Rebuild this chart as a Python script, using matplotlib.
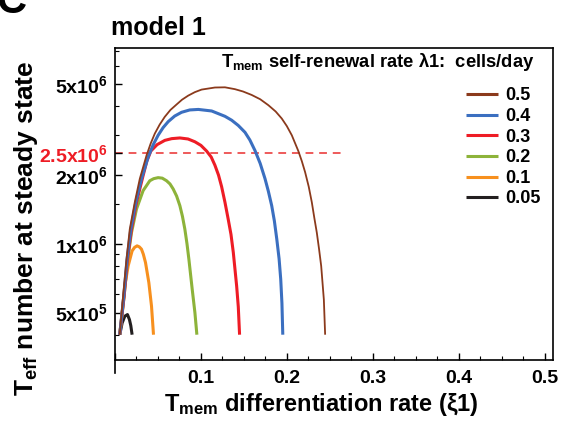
import matplotlib
matplotlib.use("Agg")
import matplotlib.pyplot as plt
from matplotlib.ticker import FixedLocator, NullFormatter

plt.rcParams['font.family'] = ['Liberation Sans', 'DejaVu Sans']
plt.rcParams['font.weight'] = 'bold'
plt.rcParams['mathtext.fontset'] = 'custom'
plt.rcParams['mathtext.rm'] = 'Liberation Sans:bold'
plt.rcParams['mathtext.bf'] = 'Liberation Sans:bold'
plt.rcParams['mathtext.it'] = 'Liberation Sans:bold'

# values: xi1 (differentiation rate) vs Teff at steady state
xi_05 = [0.0055, 0.0094, 0.0134, 0.0172, 0.023, 0.0289, 0.0367, 0.0415, 0.0463, 0.052,
         0.0579, 0.0645, 0.0717, 0.078, 0.0852, 0.093, 0.1008, 0.1163, 0.128, 0.1396,
         0.149, 0.1591, 0.169, 0.1785, 0.187, 0.1941, 0.2, 0.2058, 0.2134, 0.2175,
         0.2213, 0.2255, 0.2291, 0.232, 0.2349, 0.2375, 0.24, 0.2431, 0.2446]
t_05 = [4.0e5, 5.9e5, 8.56e5, 1.16e6, 1.52e6, 1.93e6, 2.44e6, 2.75e6, 3.04e6, 3.33e6,
        3.6e6, 3.86e6, 4.08e6, 4.28e6, 4.46e6, 4.62e6, 4.74e6, 4.84e6, 4.85e6, 4.76e6,
        4.65e6, 4.49e6, 4.3e6, 4.05e6, 3.8e6, 3.54e6, 3.28e6, 2.99e6, 2.55e6, 2.3e6,
        2.06e6, 1.78e6, 1.52e6, 1.3e6, 1.12e6, 9.5e5, 8.0e5, 5.7e5, 4.0e5]

xi_04 = [0.0055, 0.0102, 0.014, 0.0184, 0.0242, 0.0309, 0.0386, 0.0445, 0.0502, 0.056,
         0.0619, 0.0695, 0.0775, 0.087, 0.097, 0.1125, 0.128, 0.1358, 0.1435, 0.1513,
         0.157, 0.163, 0.169, 0.1746, 0.1785, 0.1824, 0.1855, 0.1883, 0.191, 0.1929,
         0.1943, 0.1953]
t_04 = [4.0e5, 5.9e5, 8.56e5, 1.16e6, 1.52e6, 1.93e6, 2.4e6, 2.72e6, 2.99e6, 3.23e6,
        3.43e6, 3.63e6, 3.77e6, 3.86e6, 3.88e6, 3.82e6, 3.62e6, 3.48e6, 3.3e6, 3.08e6,
        2.85e6, 2.56e6, 2.25e6, 1.93e6, 1.7e6, 1.47e6, 1.26e6, 1.05e6, 8.6e5, 7.0e5,
        5.5e5, 4.0e5]

xi_03 = [0.0055, 0.0106, 0.0145, 0.0192, 0.025, 0.0327, 0.037, 0.0417, 0.049, 0.058,
         0.066, 0.0755, 0.085, 0.093, 0.1, 0.1066, 0.112, 0.1163, 0.1205, 0.1241,
         0.128, 0.1318, 0.135, 0.1377, 0.1416, 0.1435, 0.145]
t_03 = [4.0e5, 5.9e5, 8.56e5, 1.16e6, 1.52e6, 1.99e6, 2.3e6, 2.55e6, 2.72e6, 2.84e6,
        2.89e6, 2.91e6, 2.88e6, 2.8e6, 2.7e6, 2.55e6, 2.4e6, 2.21e6, 2.0e6, 1.78e6,
        1.52e6, 1.28e6, 1.1e6, 9.17e5, 6.53e5, 5.3e5, 4.0e5]

xi_02 = [0.0055, 0.0106, 0.0145, 0.0192, 0.025, 0.0327, 0.0405, 0.045, 0.0502, 0.055,
         0.06, 0.064, 0.0677, 0.0717, 0.0755, 0.0785, 0.0813, 0.0838, 0.086, 0.0899,
         0.093, 0.0953]
t_02 = [4.0e5, 5.9e5, 8.42e5, 1.12e6, 1.42e6, 1.71e6, 1.89e6, 1.93e6, 1.95e6, 1.94e6,
        1.89e6, 1.83e6, 1.74e6, 1.62e6, 1.47e6, 1.32e6, 1.16e6, 1.0e6, 8.56e5, 6.31e5,
        5.0e5, 4.0e5]

xi_01 = [0.0055, 0.0083, 0.0114, 0.0153, 0.0199, 0.0228, 0.0257, 0.0283, 0.0308, 0.033,
         0.0355, 0.0394, 0.0425, 0.0448]
t_01 = [4.0e5, 5.0e5, 6.53e5, 8.0e5, 9.31e5, 9.65e5, 9.8e5, 9.7e5, 9.48e5, 9.0e5,
        8.28e5, 6.76e5, 5.33e5, 4.0e5]

xi_005 = [0.0055, 0.0083, 0.0114, 0.0145, 0.0168, 0.0184, 0.0199]
t_005 = [4.0e5, 4.5e5, 4.82e5, 4.9e5, 4.66e5, 4.38e5, 4.0e5]

series = [
    ("0.5", xi_05, t_05, "#8b3a1c", 1.3),
    ("0.4", xi_04, t_04, "#3b6fc0", 2.2),
    ("0.3", xi_03, t_03, "#ee1c25", 2.2),
    ("0.2", xi_02, t_02, "#8db33a", 2.2),
    ("0.1", xi_01, t_01, "#f7901e", 2.2),
    ("0.05", xi_005, t_005, "#231f20", 2.2),
]

threshold = 2.5e6
y_major = [5e5, 1e6, 2e6, 2.5e6, 5e6]
y_labels = [r"$\mathbf{5x10^5}$", r"$\mathbf{1x10^6}$", r"$\mathbf{2x10^6}$",
            r"$\mathbf{2.5x10^6}$", r"$\mathbf{5x10^6}$"]
y_minor = [4e5, 6e5, 7e5, 8e5, 9e5, 1.5e6, 3e6, 4e6, 6e6, 7e6]
x_major = [0, 0.1, 0.2, 0.3, 0.4, 0.5]
x_labels = ["", "0.1", "0.2", "0.3", "0.4", "0.5"]


def main():
    fig = plt.figure(figsize=(5.61, 4.26), dpi=100)
    ax = fig.add_axes([0.205, 0.155, 0.781, 0.732])

    # brown sits on top of the bundle at the left edge
    for i, (label, xs, ys, color, lw) in enumerate(series):
        ax.plot(xs, ys, color=color, lw=lw, label=label, solid_capstyle="butt",
                solid_joinstyle="round", zorder=10 - i)

    ax.plot([0, 0.263], [threshold, threshold], color="#ee5a5a", lw=1.4,
            dashes=(4, 3), zorder=1)

    ax.set_yscale("log")
    ax.set_xlim(0, 0.51)
    ax.set_ylim(3.1e5, 7.2e6)

    ax.yaxis.set_major_locator(FixedLocator(y_major))
    ax.set_yticklabels(y_labels, fontsize=14)
    ax.yaxis.set_minor_locator(FixedLocator(y_minor))
    ax.yaxis.set_minor_formatter(NullFormatter())
    ax.get_yticklabels()[3].set_color("#ee1c25")

    ax.set_xticks(x_major)
    ax.set_xticklabels(x_labels, fontsize=14)
    ax.xaxis.set_minor_locator(FixedLocator([i * 0.025 for i in range(21)]))

    ax.tick_params(which="both", direction="in", top=False, right=False)
    ax.tick_params(which="major", length=5, width=1)
    ax.tick_params(which="minor", length=3, width=0.8)
    ax.tick_params(axis="x", pad=7)
    ax.tick_params(axis="y", pad=5)
    for s in ax.spines.values():
        s.set_linewidth(1.2)
    ax.spines['left'].set_bounds(2.72e5, 7.2e6)

    ax.set_xlabel(r"T$_{\mathbf{mem}}$ differentiation rate ($\xi$1)",
                  fontsize=17, fontweight="bold")
    ax.xaxis.set_label_coords(0.471, -0.098)
    ax.set_ylabel(r"T$_{\mathbf{eff}}$ number at steady state",
                  fontsize=19, fontweight="bold")
    ax.yaxis.set_label_coords(-0.172, 0.423)

    fig.text(0.198, 0.935, "model 1", fontsize=18, fontweight="bold",
             ha="left", va="center")
    fig.text(-0.006, 0.97, "C", fontsize=30, fontweight="bold",
             ha="left", va="baseline")

    ax.text(0.958, 0.955, r"T$_{\mathbf{mem}}$ self-renewal rate λ1:  cells/day",
            transform=ax.transAxes, fontsize=13.2, fontweight="bold",
            ha="right", va="center")

    leg = ax.legend(loc="upper right", bbox_to_anchor=(0.972, 0.874),
                    frameon=False, fontsize=13, handlelength=1.8,
                    handletextpad=0.4, labelspacing=0.2, borderaxespad=0,
                    borderpad=0)
    for line in leg.get_lines():
        line.set_linewidth(2.2)
    for t in leg.get_texts():
        t.set_fontweight("bold")

    fig.savefig("out.png", dpi=100)


if __name__ == '__main__':
    main()
